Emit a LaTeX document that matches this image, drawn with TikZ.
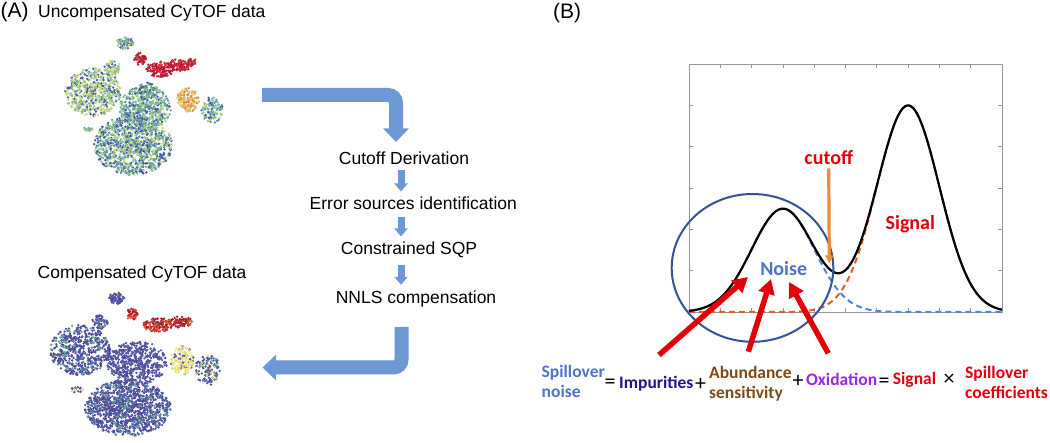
\documentclass[tikz,border=0pt]{standalone}
\usepackage{fontspec}
\setmainfont{Liberation Sans}
\newfontfamily\carl{Carlito}
\usetikzlibrary{arrows.meta}
% general colours
\definecolor{flowblue}{RGB}{110,152,212}
\definecolor{ellblue}{RGB}{52,82,150}
\definecolor{noiseblue}{RGB}{78,115,200}
\definecolor{redA}{RGB}{228,0,10}
\definecolor{cutorange}{RGB}{232,140,62}
\definecolor{sigorange}{RGB}{225,95,30}
\definecolor{nzdash}{RGB}{72,135,215}
\definecolor{impblue}{RGB}{32,22,140}
\definecolor{abbrown}{RGB}{125,75,22}
\definecolor{oxpurple}{RGB}{150,40,225}
\definecolor{boxgray}{RGB}{150,150,150}
% palettes uncompensated
\definecolor{UY0}{RGB}{215,225,135}\definecolor{UY1}{RGB}{190,215,125}\definecolor{UY2}{RGB}{160,200,140}\definecolor{UY3}{RGB}{120,175,155}\definecolor{UY4}{RGB}{75,90,165}
\definecolor{UG0}{RGB}{190,215,125}\definecolor{UG1}{RGB}{150,200,145}\definecolor{UG2}{RGB}{110,175,160}\definecolor{UG3}{RGB}{80,130,170}\definecolor{UG4}{RGB}{70,85,165}
\definecolor{UT0}{RGB}{110,175,160}\definecolor{UT1}{RGB}{130,190,150}\definecolor{UT2}{RGB}{80,140,170}\definecolor{UT3}{RGB}{70,90,165}\definecolor{UT4}{RGB}{175,210,130}
\definecolor{UR0}{RGB}{190,25,55}\definecolor{UR1}{RGB}{170,20,50}\definecolor{UR2}{RGB}{205,40,55}\definecolor{UR3}{RGB}{215,55,60}\definecolor{UR4}{RGB}{180,30,60}
\definecolor{UO0}{RGB}{240,175,85}\definecolor{UO1}{RGB}{235,150,70}\definecolor{UO2}{RGB}{245,205,110}\definecolor{UO3}{RGB}{225,130,60}\definecolor{UO4}{RGB}{200,210,120}
% palettes compensated
\definecolor{CB0}{RGB}{82,78,158}\definecolor{CB1}{RGB}{88,88,168}\definecolor{CB2}{RGB}{75,70,150}\definecolor{CB3}{RGB}{95,165,150}\definecolor{CB4}{RGB}{82,82,162}
\definecolor{CD0}{RGB}{82,78,158}\definecolor{CD1}{RGB}{88,88,168}\definecolor{CD2}{RGB}{75,70,150}\definecolor{CD3}{RGB}{82,82,162}\definecolor{CD4}{RGB}{95,100,175}
\definecolor{CR0}{RGB}{200,60,40}\definecolor{CR1}{RGB}{175,25,45}\definecolor{CR2}{RGB}{220,95,55}\definecolor{CR3}{RGB}{190,40,45}\definecolor{CR4}{RGB}{160,20,45}
\definecolor{CY0}{RGB}{245,230,125}\definecolor{CY1}{RGB}{235,215,105}\definecolor{CY2}{RGB}{90,90,170}\definecolor{CY3}{RGB}{210,220,125}\definecolor{CY4}{RGB}{245,240,150}
\definecolor{CT0}{RGB}{88,88,168}\definecolor{CT1}{RGB}{75,70,150}\definecolor{CT2}{RGB}{230,215,110}\definecolor{CT3}{RGB}{110,175,160}\definecolor{CT4}{RGB}{82,82,162}
% cluster of dots: cx, cy, rx, ry, N, palette, ncolours
\newcommand\tcl[7]{%
  \foreach \ii in {1,...,#5}{%
    \pgfmathsetmacro\rra{pow(rnd,0.58)}%
    \pgfmathsetmacro\tha{360*rnd}%
    \pgfmathtruncatemacro\kka{min(#7-1,int(#7*rnd))}%
    \fill[#6\kka] ({#1+#3*\rra*cos(\tha)},{#2+#4*\rra*sin(\tha)}) circle[radius=1.3pt];
  }}
\newcommand\twoline[2]{\begin{tabular}[t]{@{}l@{}}#1\\#2\end{tabular}}
\tikzset{
  flowtxt/.style={anchor=base, inner sep=0pt, text height=12.5pt, text depth=0pt,
    font=\fontsize{17.5}{20}\selectfont},
  headtxt/.style={anchor=base west, inner sep=0pt, font=\fontsize{17.5}{20}\selectfont},
  paneltxt/.style={anchor=base west, inner sep=0pt, font=\fontsize{21}{24}\selectfont},
  bigarrow/.style={draw=flowblue, line width=14pt, rounded corners=8pt,
    -{Triangle[width=25pt,length=13.5pt]}},
  smallarrow/.style={draw=flowblue, line width=7pt, -{Triangle[width=13pt,length=8pt]}},
  eqtxt/.style={anchor=base west, inner sep=0pt, font=\carl\bfseries\fontsize{17.5}{20}\selectfont},
  optxt/.style={anchor=base, inner sep=0pt, font=\carl\fontsize{22}{24}\selectfont},
  charttxt/.style={anchor=base, inner sep=0pt, font=\carl\bfseries\fontsize{20}{24}\selectfont},
  redarrow/.style={draw=redA, line width=5.5pt, -{Triangle[width=16pt,length=15pt]}},
  cutarrow/.style={draw=cutorange, line width=3.2pt, -{Triangle[width=8pt,length=8pt]}},
}
\begin{document}
\begin{tikzpicture}[x=1pt,y=-1pt]
\useasboundingbox (0,0) rectangle (1050,443);
\fill[white] (0,0) rectangle (1050,443);
\pgfmathsetseed{4242}
% ---------- panel A labels
\node[paneltxt] (pA) at (0.5,17.3) {(A)};
\node[headtxt] (uhead) at (38,17.3) {Uncompensated CyTOF data};
\node[headtxt] (chead) at (37.5,278.7) {Compensated CyTOF data};
% ---------- uncompensated t-SNE
\tcl{125}{43}{9}{6}{70}{UG}{5}
\tcl{140}{59}{6}{6}{50}{UR}{5}
\tcl{160}{69}{14}{8}{120}{UR}{5}
\tcl{180}{65}{12}{6}{90}{UR}{5}
\tcl{191}{62}{5}{5}{25}{UR}{5}
\tcl{93}{92}{28}{24}{560}{UY}{5}
\tcl{112}{68}{8}{8}{70}{UY}{5}
\tcl{145}{108}{26}{22}{500}{UT}{5}
\tcl{148}{90}{10}{8}{70}{UT}{5}
\tcl{133}{145}{39}{30}{1050}{UG}{5}
\tcl{188}{100}{11}{12}{140}{UO}{5}
\tcl{212}{110}{11}{13}{110}{UT}{5}
\tcl{88}{130}{5}{3}{15}{UY}{5}
% ---------- compensated t-SNE
\tcl{117}{298}{8}{6}{70}{CD}{5}
\tcl{132}{314}{6}{6}{50}{CR}{5}
\tcl{158}{325}{15}{7}{120}{CR}{5}
\tcl{180}{322}{12}{6}{90}{CR}{5}
\tcl{80}{350}{30}{25}{560}{CB}{5}
\tcl{100}{322}{8}{7}{55}{CB}{5}
\tcl{137}{363}{30}{22}{540}{CD}{5}
\tcl{128}{408}{43}{28}{1150}{CB}{5}
\tcl{182}{360}{12}{15}{160}{CY}{5}
\tcl{208}{370}{13}{15}{130}{CT}{5}
\tcl{77}{390}{6}{3}{15}{CT}{5}
% ---------- flow
\node[flowtxt] (cut) at (404,165) {Cutoff Derivation};
\node[flowtxt] (err) at (413.3,210) {Error sources identification};
\node[flowtxt] (con) at (409,255) {Constrained SQP};
\node[flowtxt] (nnls) at (416,304) {NNLS compensation};
\coordinate (ax) at (401,0);
\coordinate (uin) at (262,95);
\coordinate (cutin) at (396,142);
\coordinate (nnlsout) at (401.5,327);
\coordinate (compin) at (262.5,367.5);
\draw[bigarrow] (uin) -| (cutin);
\draw[bigarrow] (nnlsout) |- (compin);
\draw[smallarrow, shorten <=5pt, shorten >=5.8pt] (cut.south -| ax) -- (err.north -| ax);
\draw[smallarrow, shorten <=6.7pt, shorten >=5.8pt] (err.south -| ax) -- (con.north -| ax);
\draw[smallarrow, shorten <=10pt, shorten >=6.5pt] (con.south -| ax) -- (nnls.north -| ax);
% ---------- panel B
\node[paneltxt] (pB) at (553,18.5) {(B)};
\begin{scope}[shift={(689pt,-312pt)}, x=31.3pt, y=41.3pt]
  \draw[boxgray, line width=0.8pt] (0,0) rectangle (10,6);
  \foreach \i in {1,...,9} {
    \draw[boxgray, line width=0.7pt] (\i,0) -- ++(0,0.1);
    \draw[boxgray, line width=0.7pt] (\i,6) -- ++(0,-0.1);
  }
  \foreach \j in {1,...,5} {
    \draw[boxgray, line width=0.7pt] (0,\j) -- ++(0.13,0);
    \draw[boxgray, line width=0.7pt] (10,\j) -- ++(-0.13,0);
  }
  \draw[sigorange, line width=2pt, dash pattern=on 6pt off 4pt]
    plot[domain=0:10, samples=160, smooth] (\x, {5*exp(-0.5*(\x-7)*(\x-7))});
  \draw[nzdash, line width=2pt, dash pattern=on 6pt off 4pt]
    plot[domain=0:10, samples=160, smooth] (\x, {2.5*exp(-0.5*(\x-3)*(\x-3))});
  \draw[black, line width=2.2pt]
    plot[domain=0:10, samples=200, smooth] (\x, {2.5*exp(-0.5*(\x-3)*(\x-3))+5*exp(-0.5*(\x-7)*(\x-7))});
\end{scope}
\draw[ellblue, line width=2pt] (752.5,267.9) ellipse [x radius=80.8pt, y radius=73.9pt];
% chart labels
\node[charttxt, text=redA] (cutlbl) at (828.7,165) {cutoff};
\node[charttxt, text=redA] (siglbl) at (910.3,230) {Signal};
\node[charttxt, text=noiseblue] (noise) at (783.7,275.7) {Noise};
\coordinate (cuttip) at (829.3,263.3);
\draw[cutarrow, shorten <=3pt] (cutlbl.south) -- (cuttip);
% red arrows
\coordinate (t1) at (659,355);
\coordinate (h1) at (748,277);
\coordinate (t2) at (748.3,351.7);
\coordinate (h2) at (771,279);
\coordinate (t3) at (828.3,353.3);
\coordinate (h3) at (789,282);
\draw[redarrow] (t1) -- (h1);
\draw[redarrow] (t2) -- (h2);
\draw[redarrow] (t3) -- (h3);
% equation
\node[eqtxt, text=noiseblue] (spn) at (541.5,377.5) {\twoline{Spillover}{noise}};
\node[optxt] (eq1) at (610,389) {=};
\node[eqtxt, text=impblue] (imp) at (619,388.8) {Impurities};
\node[optxt] (pl1) at (700.5,390.3) {+};
\node[eqtxt, text=abbrown] (abs) at (709,378.3) {\twoline{Abundance}{sensitivity}};
\node[optxt] (pl2) at (798,387.3) {+};
\node[eqtxt, text=oxpurple] (oxi) at (806,385.7) {Oxidation};
\node[optxt] (eq2) at (884,387.3) {=};
\node[eqtxt, text=redA] (sig) at (892.7,385) {Signal};
\node[optxt] (times) at (949,385.3) {×};
\node[eqtxt, text=redA] (spc) at (965,378.3) {\twoline{Spillover}{coefficients}};
\end{tikzpicture}
\end{document}
